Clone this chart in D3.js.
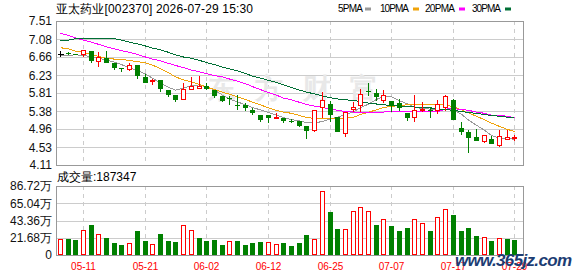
<!DOCTYPE html>
<html>
<head>
<meta charset="utf-8">
<script src="https://cdn.jsdelivr.net/npm/d3@7"></script>
<style>
  body { margin: 0; background: #fff; }
  svg { display: block; }
  text { font-family: "Liberation Sans", Arial, sans-serif; }
</style>
</head>
<body>
<svg id="chart" width="578" height="276"></svg>
<script>
// trading days shown (2026)
var dates = [
  '05-06', '05-07', '05-08', '05-11', '05-12', '05-13', '05-14', '05-15',
  '05-18', '05-19', '05-20', '05-21', '05-22', '05-25', '05-26', '05-27',
  '05-28', '05-29', '06-01', '06-02', '06-03', '06-04', '06-05', '06-08',
  '06-09', '06-10', '06-11', '06-12', '06-15', '06-16', '06-17', '06-18',
  '06-22', '06-23', '06-24', '06-25', '06-26', '06-29', '06-30', '07-01',
  '07-02', '07-03', '07-06', '07-07', '07-08', '07-09', '07-10', '07-13',
  '07-14', '07-15', '07-16', '07-17', '07-20', '07-21', '07-22', '07-23',
  '07-24', '07-27', '07-28', '07-29'
];

var openPx = [
  6.73, 6.75, 6.72, 6.73, 6.80, 6.57, 6.63, 6.52, 6.40, 6.37,
  6.47, 6.18, 6.10, 6.11, 5.88, 5.76, 5.66, 5.90, 5.93, 5.98,
  5.88, 5.74, 5.69, 5.53, 5.53, 5.42, 5.29, 5.29, 5.23, 5.21,
  5.16, 5.15, 5.03, 4.94, 5.49, 5.55, 5.24, 4.86, 5.43, 5.53,
  5.85, 5.82, 5.65, 5.62, 5.58, 5.34, 5.25, 5.40, 5.42, 5.40,
  5.49, 5.64, 4.99, 4.90, 4.78, 4.68, 4.72, 4.58, 4.72, 4.75
];
var highPx = [
  6.80, 6.77, 6.74, 6.83, 6.81, 6.78, 6.80, 6.52, 6.41, 6.53,
  6.47, 6.25, 6.14, 6.11, 5.88, 5.76, 6.04, 6.18, 6.21, 6.05,
  5.88, 5.74, 5.74, 5.76, 5.58, 5.46, 5.29, 5.29, 5.33, 5.21,
  5.20, 5.15, 5.03, 5.41, 5.84, 5.62, 5.25, 5.37, 5.60, 5.90,
  6.05, 5.90, 5.88, 5.62, 5.66, 5.34, 5.76, 5.60, 5.49, 5.64,
  5.76, 5.66, 5.13, 4.94, 4.95, 4.82, 4.79, 4.94, 4.94, 4.82
];
var lowPx = [
  6.66, 6.70, 6.70, 6.66, 6.53, 6.43, 6.51, 6.36, 6.31, 6.33,
  6.13, 6.04, 5.99, 5.84, 5.71, 5.59, 5.66, 5.90, 5.92, 5.88,
  5.70, 5.60, 5.53, 5.41, 5.39, 5.29, 5.13, 5.11, 5.20, 5.11,
  5.10, 5.00, 4.73, 4.90, 5.21, 5.13, 4.90, 4.78, 5.35, 5.35,
  5.74, 5.63, 5.58, 5.37, 5.38, 5.16, 5.13, 5.37, 5.21, 5.31,
  5.39, 5.17, 4.82, 4.40, 4.68, 4.62, 4.60, 4.54, 4.72, 4.68
];
var closePx = [
  6.73, 6.72, 6.70, 6.82, 6.57, 6.65, 6.51, 6.41, 6.39, 6.47,
  6.20, 6.05, 6.11, 5.90, 5.77, 5.65, 5.90, 5.98, 5.97, 5.91,
  5.75, 5.62, 5.67, 5.52, 5.46, 5.33, 5.17, 5.21, 5.24, 5.16,
  5.14, 5.04, 4.92, 5.41, 5.64, 5.28, 4.90, 5.37, 5.47, 5.78,
  5.83, 5.72, 5.76, 5.51, 5.45, 5.23, 5.42, 5.44, 5.40, 5.55,
  5.74, 5.17, 4.90, 4.75, 4.68, 4.82, 4.60, 4.79, 4.77, 4.76
];
var prevClose = 6.70;

// volume in shares (hands)
var volume = [
  197000, 197000, 188000, 310000, 373000, 260000, 210000, 151000, 126000, 147000,
  302000, 176000, 134000, 264000, 176000, 163000, 373000, 310000, 214000, 176000,
  193000, 126000, 176000, 176000, 126000, 151000, 163000, 163000, 134000, 151000,
  113000, 151000, 251000, 197000, 800000, 540000, 327000, 323000, 549000, 599000,
  549000, 377000, 449000, 364000, 302000, 339000, 449000, 402000, 302000, 474000,
  574000, 503000, 302000, 339000, 239000, 222000, 176000, 210000, 201000, 187347
];

var ma5 = [
  6.69, 6.70, 6.71, 6.70, 6.66, 6.63, 6.59, 6.54, 6.48, 6.41,
  6.34, 6.26, 6.16, 6.05, 5.94, 5.88, 5.92, 5.99, 6.00, 5.96,
  5.88, 5.76, 5.67, 5.60, 5.53, 5.47, 5.41, 5.35, 5.29, 5.23,
  5.18, 5.15, 5.11, 5.10, 5.14, 5.20, 5.24, 5.30, 5.37, 5.46,
  5.55, 5.66, 5.72, 5.72, 5.63, 5.55, 5.48, 5.44, 5.43, 5.42,
  5.41, 5.41, 5.31, 5.17, 5.05, 4.93, 4.81, 4.74, 4.73, 4.72
];
var ma10 = [
  6.88, 6.85, 6.80, 6.77, 6.72, 6.67, 6.63, 6.61, 6.60, 6.58,
  6.55, 6.52, 6.47, 6.38, 6.29, 6.19, 6.12, 6.07, 6.01, 5.95,
  5.89, 5.83, 5.78, 5.72, 5.66, 5.59, 5.53, 5.46, 5.40, 5.36,
  5.33, 5.28, 5.23, 5.21, 5.21, 5.21, 5.21, 5.22, 5.24, 5.30,
  5.36, 5.41, 5.47, 5.49, 5.52, 5.53, 5.54, 5.55, 5.55, 5.54,
  5.52, 5.49, 5.41, 5.34, 5.26, 5.18, 5.10, 5.02, 4.95, 4.90
];
var ma20 = [
  7.22, 7.17, 7.11, 7.06, 7.01, 6.96, 6.90, 6.85, 6.81, 6.77,
  6.72, 6.66, 6.61, 6.57, 6.51, 6.46, 6.41, 6.35, 6.31, 6.27,
  6.22, 6.19, 6.14, 6.09, 6.03, 5.96, 5.89, 5.82, 5.76, 5.69,
  5.65, 5.59, 5.54, 5.50, 5.47, 5.43, 5.40, 5.37, 5.36, 5.36,
  5.36, 5.36, 5.36, 5.37, 5.37, 5.37, 5.37, 5.37, 5.37, 5.37,
  5.43, 5.44, 5.42, 5.40, 5.36, 5.33, 5.29, 5.28, 5.26, 5.23
];
var ma30 = [
  7.04, 7.06, 7.09, 7.10, 7.10, 7.10, 7.10, 7.09, 7.06, 7.01,
  6.97, 6.92, 6.87, 6.83, 6.77, 6.71, 6.66, 6.63, 6.58, 6.53,
  6.48, 6.42, 6.38, 6.33, 6.27, 6.21, 6.16, 6.11, 6.06, 6.00,
  5.94, 5.88, 5.83, 5.79, 5.74, 5.70, 5.67, 5.65, 5.63, 5.61,
  5.57, 5.55, 5.53, 5.52, 5.50, 5.49, 5.48, 5.47, 5.46, 5.43,
  5.42, 5.40, 5.37, 5.35, 5.33, 5.30, 5.28, 5.26, 5.24, 5.23
];

var priceTicks = [7.51, 7.08, 6.66, 6.23, 5.81, 5.38, 4.96, 4.53, 4.11];
var volTicks = [0, 216800, 433600, 650400, 867200];
var volTickLabels = ['0', '21.68万', '43.36万', '65.04万', '86.72万'];
var dateTicks = ['05-11', '05-21', '06-02', '06-12', '06-25', '07-07', '07-17', '07-29'];

var maSeries = [
  { name: '5PMA', values: ma5, color: '#999999' },
  { name: '10PMA', values: ma10, color: '#f0a30a' },
  { name: '20PMA', values: ma20, color: '#ff00ff' },
  { name: '30PMA', values: ma30, color: '#006f35' }
];

var UP = '#ff0000', DOWN = '#008000', FLAT = '#000000';

var svg = d3.select('#chart');
svg.append('rect').attr('width', 578).attr('height', 276).attr('fill', '#fff');

var left = 56, right = 523;
var pTop = 21, pBottom = 165;
var vTop = 186, vBottom = 255;

var x = d3.scaleBand().domain(dates).range([left, left + 7.705 * dates.length]);
var y = d3.scaleLinear().domain([4.11, 7.51]).range([pBottom, pTop]);
var yv = d3.scaleLinear().domain([0, 867200]).range([vBottom, vTop]);

function cx(d) {
  return Math.round(x(d) + x.bandwidth() / 2) + 0.5;
}
function px(v) {
  return Math.round(v) + 0.5;
}

var data = dates.map(function(d, i) {
  return {
    date: d, o: openPx[i], h: highPx[i], l: lowPx[i], c: closePx[i],
    v: volume[i], pc: i ? closePx[i - 1] : prevClose
  };
});

// --- grid -------------------------------------------------------------
var grid = svg.append('g').attr('shape-rendering', 'crispEdges');
grid.selectAll('line.hp')
  .data(priceTicks.slice(1, -1))
  .enter().append('line')
  .attr('x1', left).attr('x2', right)
  .attr('y1', function(d) { return px(y(d)); })
  .attr('y2', function(d) { return px(y(d)); })
  .attr('stroke', '#cccccc');
grid.selectAll('line.hv')
  .data(volTicks.slice(1, -1))
  .enter().append('line')
  .attr('x1', left).attr('x2', right)
  .attr('y1', function(d) { return px(yv(d)); })
  .attr('y2', function(d) { return px(yv(d)); })
  .attr('stroke', '#cccccc');
[[pTop, pBottom], [vTop, vBottom]].forEach(function(r) {
  grid.selectAll(null)
    .data(dateTicks)
    .enter().append('line')
    .attr('x1', cx).attr('x2', cx)
    .attr('y1', r[0]).attr('y2', r[1])
    .attr('stroke', '#cccccc')
    .attr('stroke-dasharray', '4,4');
});

// faint watermark
svg.append('text')
  .attr('x', 208).attr('y', 98)
  .attr('textLength', 170)
  .attr('font-family', '"Noto Sans CJK SC", sans-serif')
  .attr('font-size', 28).attr('font-weight', 'bold')
  .attr('fill', '#e8e8e8')
  .text('东方财富');

// --- panel borders --------------------------------------------------------
svg.append('rect')
  .attr('x', left + 0.5).attr('y', pTop + 0.5)
  .attr('width', right - left).attr('height', pBottom - pTop)
  .attr('fill', 'none').attr('stroke', '#999999')
  .attr('shape-rendering', 'crispEdges');
svg.append('rect')
  .attr('x', left + 0.5).attr('y', vTop + 0.5)
  .attr('width', right - left).attr('height', vBottom - vTop)
  .attr('fill', 'none').attr('stroke', '#999999')
  .attr('shape-rendering', 'crispEdges');

// --- moving averages ---------------------------------------------------------
var line = d3.line()
  .x(function(d, i) { return cx(dates[i]); })
  .y(function(d) { return y(d); });
svg.append('g')
  .selectAll('path')
  .data(maSeries)
  .enter().append('path')
  .attr('d', function(s) { return line(s.values); })
  .attr('fill', 'none')
  .attr('stroke', function(s) { return s.color; })
  .attr('stroke-width', 1)
  .attr('shape-rendering', 'crispEdges');

// --- candles ----------------------------------------------------------
function candleColor(d) {
  if (d.c > d.o) return UP;
  if (d.c < d.o) return DOWN;
  return FLAT;
}
var candles = svg.append('g')
  .attr('shape-rendering', 'crispEdges')
  .selectAll('g')
  .data(data)
  .enter().append('g');

candles.append('line')
  .attr('x1', function(d) { return cx(d.date); })
  .attr('x2', function(d) { return cx(d.date); })
  .attr('y1', function(d) { return Math.round(y(d.h)); })
  .attr('y2', function(d) { return Math.round(y(d.l)); })
  .attr('stroke', candleColor);

candles.each(function(d) {
  var g = d3.select(this);
  var c = cx(d.date);
  var top = Math.round(y(Math.max(d.o, d.c)));
  var bot = Math.round(y(Math.min(d.o, d.c)));
  if (d.c === d.o) {
    g.append('line')
      .attr('x1', c - 3).attr('x2', c + 3)
      .attr('y1', top + 0.5).attr('y2', top + 0.5)
      .attr('stroke', FLAT);
  } else if (d.c > d.o) {
    g.append('rect')
      .attr('x', c - 2).attr('y', top + 0.5)
      .attr('width', 4).attr('height', Math.max(1, bot - top))
      .attr('fill', '#fff').attr('stroke', UP);
  } else {
    g.append('rect')
      .attr('x', c - 2.5).attr('y', top)
      .attr('width', 5).attr('height', Math.max(1, bot - top))
      .attr('fill', DOWN);
  }
});

// --- volume -------------------------------------------------------------
var bars = svg.append('g')
  .attr('shape-rendering', 'crispEdges')
  .selectAll('rect')
  .data(data)
  .enter().append('rect');
bars.each(function(d) {
  var c = cx(d.date);
  var top = Math.round(yv(d.v));
  var up = d.c >= d.pc;
  if (up) {
    d3.select(this)
      .attr('x', c - 2).attr('y', top + 0.5)
      .attr('width', 4).attr('height', vBottom - top - 1)
      .attr('fill', '#fff').attr('stroke', UP);
  } else {
    d3.select(this)
      .attr('x', c - 2.5).attr('y', top)
      .attr('width', 5).attr('height', vBottom - top)
      .attr('fill', DOWN);
  }
});

// --- axis labels -------------------------------------------------------------
svg.append('g')
  .selectAll('text')
  .data(priceTicks)
  .enter().append('text')
  .attr('x', 52).attr('y', function(d) { return y(d); })
  .attr('dy', '0.36em')
  .attr('text-anchor', 'end')
  .attr('font-size', 12)
  .attr('fill', '#111')
  .text(function(d) { return d.toFixed(2); });

svg.append('g')
  .selectAll('text')
  .data(volTicks)
  .enter().append('text')
  .attr('x', 52).attr('y', function(d) { return yv(d); })
  .attr('dy', '0.36em')
  .attr('text-anchor', 'end')
  .attr('font-size', 12)
  .attr('font-family', '"Liberation Sans", "Noto Sans CJK SC", sans-serif')
  .attr('fill', '#111')
  .text(function(d, i) { return volTickLabels[i]; });

svg.append('g')
  .selectAll('text')
  .data(dateTicks)
  .enter().append('text')
  .attr('x', cx).attr('y', 270)
  .attr('text-anchor', 'middle')
  .attr('font-family', '"DejaVu Sans Mono", monospace')
  .attr('font-size', 10)
  .attr('fill', '#ff0000')
  .text(function(d) { return d; });

// --- titles & legend -------------------------------------------------------
svg.append('text')
  .attr('x', 56).attr('y', 13)
  .attr('font-family', '"Noto Sans CJK SC", sans-serif')
  .attr('font-size', 12)
  .attr('textLength', 197)
  .attr('fill', '#000')
  .text('亚太药业[002370] 2026-07-29 15:30');

svg.append('text')
  .attr('x', 57).attr('y', 181)
  .attr('font-family', '"Noto Sans CJK SC", sans-serif')
  .attr('font-size', 12)
  .attr('fill', '#000')
  .text('成交量:' + volume[volume.length - 1]);

var legendX = [338, 380, 425, 472];
var legendW = [25, 29, 30, 29];
var swatchX = [365, 413, 459, 505];
var legend = svg.append('g')
  .selectAll('g')
  .data(maSeries)
  .enter().append('g');
legend.append('text')
  .attr('x', function(d, i) { return legendX[i]; })
  .attr('y', 12)
  .attr('textLength', function(d, i) { return legendW[i]; })
  .attr('font-family', '"Liberation Serif", serif')
  .attr('font-size', 10)
  .attr('fill', '#000')
  .text(function(d) { return d.name; });
legend.append('rect')
  .attr('x', function(d, i) { return swatchX[i]; })
  .attr('y', 7.5)
  .attr('width', 6).attr('height', 3)
  .attr('fill', function(d) { return d.color; });

// site watermark
svg.append('text')
  .attr('x', 455).attr('y', 266)
  .attr('textLength', 117)
  .attr('font-family', '"Liberation Serif", serif')
  .attr('font-style', 'italic')
  .attr('font-weight', 'bold')
  .attr('font-size', 17)
  .attr('fill', '#1d3d74')
  .text('www.365jz.com');
</script>
</body>
</html>
